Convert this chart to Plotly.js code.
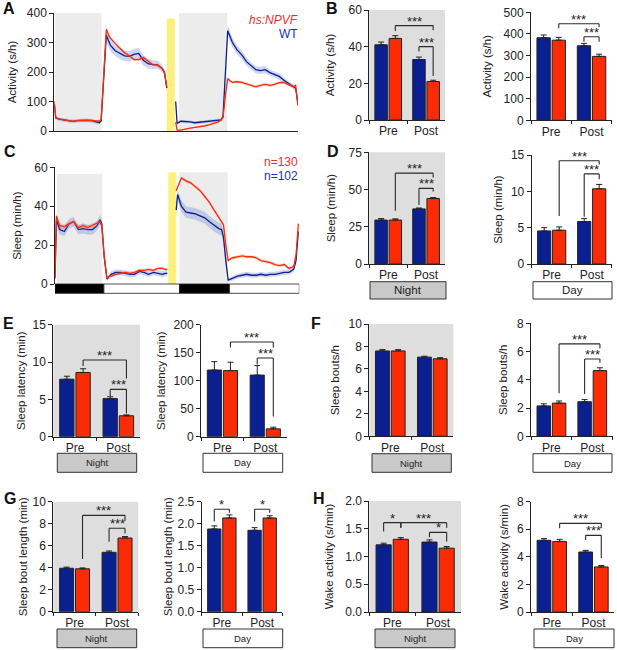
<!DOCTYPE html>
<html><head><meta charset="utf-8">
<script src="https://cdn.plot.ly/plotly-3.0.1.min.js"></script>
<style>html,body{margin:0;padding:0;background:#fff}</style></head>
<body><div id="chart" style="width:617px;height:650px"></div>
<script>
// ---------- time-course data (hours) ----------
const t1 = [0,0.3,1,2,3,4,5,6,7,8,9,9.6,10,10.5,11.1,11.6,12,13,14,15,16,17,18,19,20,21,22,23,23.5,24];
const t2 = [25.9,26.2,27,28,29,30,31,32,33,34,35,35.6,36,36.5,37,37.5,38,39,40,41,42,43,44,45,46,47,48,49,50,51,51.5,52];
const activityHs1 = [100,45,41,38,36,33,36,37,37,36,34,33,40,180,345,325,315,296,280,265,255,242,242,249,237,225,223,212,200,150];
const activityWt1 = [90,45,40,38,35,33,35,36,36,35,30,28,35,170,325,305,290,272,262,255,253,260,263,240,228,225,225,212,198,145];
const activityHs2 = [30,3,3,7,10,12,14,17,21,25,31,37,45,120,178,170,165,167,165,160,155,150,155,158,155,158,164,165,157,150,155,85];
const activityWt2 = [100,26,33,33,31,28,30,31,33,35,38,38,50,200,340,320,300,275,258,235,220,208,205,208,198,192,185,172,160,150,145,90];
const activityErrHs1 = [6,4,3,3,3,3,3,3,3,3,3,3,3,5,6,6,5,5,5,5,5,5,5,5,5,5,5,5,5,5];
const activityErrWt1 = [8,6,6,6,6,6,6,6,6,6,5,5,5,12,25,22,20,18,18,18,18,18,18,18,16,15,14,12,12,10];
const activityErrHs2 = [4,2,2,2,2,2,2,3,3,3,3,3,3,4,5,5,5,5,5,5,5,5,5,5,5,5,5,5,5,5,5,5];
const activityErrWt2 = [8,5,5,5,5,5,5,5,5,5,5,5,5,12,18,18,16,16,14,14,12,12,12,12,10,10,10,10,8,8,8,6];
const sleepHs1 = [3,35,30,29.5,31,32,29,30,29,30,31,32,30,15,3,4,4,5,5.5,6,5.5,6,7,7,7.5,7,8,8,7.5,7.5];
const sleepWt1 = [3,33,28,27,31,32,28,28.5,28,28,30,33,31,14,2.5,4,5,6,6,5.5,5,5,6.5,6,5,6,5.5,5,5.5,5.5];
const sleepHs2 = [48,50,54.5,53,52,50,48,45,42,38,34,31.5,30.5,20,12,13,13.5,14,14.5,14,14,13.5,12,11.5,11,10,9.5,10,8,9,15,31];
const sleepWt2 = [38,46,40,37,36.5,36,35,34,32,30,28.5,28,24,12,2,2.5,3,4,4.5,5,4.5,4.5,5,4.5,5,5,5.5,6,6,7.5,12,27];
const sleepErrHs1 = [1,1.5,1.2,1.2,1.2,1.2,1.2,1.2,1.2,1.2,1.2,1.2,1.2,1,.6,.6,.6,.7,.7,.7,.7,.7,.7,.7,.7,.7,.7,.7,.7,.7];
const sleepErrWt1 = [1,2.5,2.5,2.5,2.5,2.5,2.5,2.5,2.5,2.5,2.5,2.5,2.5,1.5,1,1.5,1.5,1.5,1.5,1.5,1.5,1.5,1.5,1.5,1.5,1.5,1.5,1.5,1.5,1.5];
const sleepErrHs2 = [.8,.8,.8,.8,.8,.8,.8,.8,.8,.8,.8,.8,.8,.8,.8,.8,.8,.8,.8,.8,.8,.8,.8,.8,.8,.8,.8,.8,.8,.8,.8,.8];
const sleepErrWt2 = [2.5,3,3,3,3,3,3,3,3,3,3,3,3,2,1,1,1.2,1.3,1.3,1.3,1.3,1.3,1.3,1.3,1.3,1.3,1.3,1.3,1.3,1.3,1.5,1.5];

// ---------- bar data: [Pre, Post] ----------
const categories = ['Pre','Post'];
const bActNightWt=[41,33], bActNightHs=[44.5,21], bActNightWtE=[1.5,1.3], bActNightHsE=[1.5,0.7];
const bActDayWt=[382,345], bActDayHs=[371,296], bActDayWtE=[13,11], bActDayHsE=[13,10];
const dSlpNightWt=[29.5,37], dSlpNightHs=[29.5,44], dSlpNightWtE=[1,0.6], dSlpNightHsE=[0.8,0.6];
const dSlpDayWt=[4.55,5.85], dSlpDayHs=[4.65,10.35], dSlpDayWtE=[0.45,0.4], dSlpDayHsE=[0.45,0.6];
const eLatNightWt=[7.7,5.1], eLatNightHs=[8.6,2.8], eLatNightWtE=[0.4,0.25], eLatNightHsE=[0.5,0.12];
const eLatDayWt=[119,110], eLatDayHs=[118,14], eLatDayWtE=[15,17], eLatDayHsE=[15,3];
const fBoutNightWt=[7.6,7.05], fBoutNightHs=[7.6,6.9], fBoutNightWtE=[0.12,0.08], fBoutNightHsE=[0.12,0.1];
const fBoutDayWt=[2.15,2.45], fBoutDayHs=[2.35,4.65], fBoutDayWtE=[0.15,0.15], fBoutDayHsE=[0.15,0.2];
const gLenNightWt=[3.95,5.4], gLenNightHs=[3.9,6.7], gLenNightWtE=[0.1,0.12], gLenNightHsE=[0.08,0.13];
const gLenDayWt=[1.88,1.85], gLenDayHs=[2.13,2.13], gLenDayWtE=[0.07,0.06], gLenDayHsE=[0.07,0.05];
const hWakeNightWt=[1.21,1.26], hWakeNightHs=[1.31,1.15], hWakeNightWtE=[0.03,0.04], hWakeNightHsE=[0.03,0.03];
const hWakeDayWt=[5.2,4.35], hWakeDayHs=[5.12,3.27], hWakeDayWtE=[0.12,0.12], hWakeDayHsE=[0.15,0.1];

// ---------- layout ----------
const W=617,H=650, WT='#0b2090', HS='#fb2c05', TXT='#222', FONT='Liberation Sans, Arial, sans-serif';
const fx=p=>p/W, fy=p=>1-p/H;
const NIGHT='#c9c9c9', BG='#dedede', TB='#ececec', YEL='#fdf07c';
let traces=[], shapes=[], annos=[], layout={};
let axN=0;
function addAxes(x0,x1,yT,yB,yMax,dtick,title,tsize,standoff,extraX,fmt){
  axN++; const s=axN===1?'':axN;
  layout['xaxis'+s]=Object.assign({domain:[fx(x0),fx(x1)],anchor:'y'+s,showgrid:false,zeroline:false,showline:true,linecolor:TXT,linewidth:1,
    tickfont:{family:FONT,size:12,color:TXT},ticks:'outside',ticklen:3,tickcolor:TXT,tickwidth:1,fixedrange:true},extraX);
  layout['yaxis'+s]={domain:[fy(yB),fy(yT)],anchor:'x'+s,range:[0,yMax],dtick:dtick,tick0:0,showgrid:false,zeroline:false,showline:true,linecolor:TXT,linewidth:1,
    tickfont:{family:FONT,size:12,color:TXT},ticks:'outside',ticklen:4,tickcolor:TXT,tickwidth:1,fixedrange:true,tickformat:fmt||'',
    title:{text:title,font:{family:FONT,size:tsize,color:TXT},standoff:standoff}};
  return s;
}
function rect(s,x0,x1,y0,y1,color){ shapes.push({type:'rect',layer:'below',xref:'x'+s,yref:'y'+s,x0,x1,y0,y1,fillcolor:color,line:{width:0}}); }
function timeSeries(s,t,v,e,color,band){
  const up=v.map((a,i)=>a+e[i]), lo=v.map((a,i)=>Math.max(a-e[i],0));
  traces.push({type:'scatter',mode:'lines',x:t.concat(t.slice().reverse()),y:up.concat(lo.slice().reverse()),xaxis:'x'+s,yaxis:'y'+s,fill:'toself',fillcolor:band,line:{width:0},hoverinfo:'skip',showlegend:false});
  traces.push({type:'scatter',mode:'lines',x:t,y:v,xaxis:'x'+s,yaxis:'y'+s,line:{color:color,width:1.3},showlegend:false});
}
const WB='rgba(90,115,205,0.3)', HB='rgba(245,110,90,0.3)';
// Panel A
let sA=addAxes(54.3,298,13,131,400,100,'Activity (s/h)',11.5,7,{range:[0,52],showticklabels:false,ticks:''});
rect(sA,0.14,10.1,0,400,TB); rect(sA,26.6,36.9,0,400,TB); rect(sA,24,25.7,0,381,YEL);
[[t1,activityWt1,activityErrWt1,WT,WB],[t2,activityWt2,activityErrWt2,WT,WB],[t1,activityHs1,activityErrHs1,HS,HB],[t2,activityHs2,activityErrHs2,HS,HB]].forEach(a=>timeSeries(sA,...a));
// Panel C
let sC=addAxes(55,299.3,167.3,284,60,20,'Sleep (min/h)',11.5,10,{range:[0,52.2],showticklabels:false,ticks:'',showline:false});
rect(sC,0.4,10.1,0,56.6,TB); rect(sC,26.6,36.9,0,57.5,TB); rect(sC,24.2,25.9,0,57.5,YEL);
[[0,10.45,'#000'],[10.45,26.6,'#fff'],[26.6,37.3,'#000'],[37.3,52.2,'#fff']].forEach(b=>shapes.push({type:'rect',xref:'x'+sC,yref:'y'+sC+' domain',x0:b[0],x1:b[1],y0:-0.08,y1:0,fillcolor:b[2],line:{color:'#222',width:0.8}}));
[[t1,sleepWt1,sleepErrWt1,WT,WB],[t2,sleepWt2,sleepErrWt2,WT,WB],[t1,sleepHs1,sleepErrHs1,HS,HB],[t2,sleepHs2,sleepErrHs2,HS,HB]].forEach(a=>timeSeries(sC,...a));

function barPanel(o){
  const s=addAxes(o.x0,o.x1,o.yT,o.yB,o.max,o.dtick,o.title,o.tsize,o.standoff,{type:'category',categoryorder:'array',categoryarray:categories,tickson:'boundaries',range:[-0.5,1.5]},o.fmt);
  if(o.night) shapes.push({type:'rect',layer:'below',xref:'x'+s+' domain',yref:'y'+s+' domain',x0:0,x1:1,y0:0,y1:1,fillcolor:BG,line:{width:0}});
  [[o.wt,o.wtE,WT,'WT'],[o.hs,o.hsE,HS,'hs:NPVF']].forEach(d=>traces.push({type:'bar',name:d[3],x:categories,y:d[0],xaxis:'x'+s,yaxis:'y'+s,showlegend:false,
    marker:{color:d[2],line:{color:'#222',width:1}},
    error_y:{type:'data',symmetric:false,array:d[1],arrayminus:[0,0],color:'#222',thickness:1,width:3}}));
  const bx=i=>(i>>1)+(i%2?0.1875:-0.1875);
  (o.br||[]).forEach(b=>{
    const [a,c,top,l,r,txt]=b;
    [[bx(a),l,bx(a),top],[bx(a),top,bx(c),top],[bx(c),top,bx(c),r]].forEach(q=>shapes.push({type:'line',xref:'x'+s,yref:'y'+s,x0:q[0],y0:q[1],x1:q[2],y1:q[3],line:{color:'#2a2a2a',width:1.1}}));
    annos.push({xref:'x'+s,yref:'y'+s,x:(bx(a)+bx(c))/2,y:top,text:txt||'***',showarrow:false,yanchor:'bottom',yshift:-5,font:{family:FONT,size:13,color:TXT}});
  });
  if(o.box) {
    const night=o.box[0]==='Night';
    shapes.push({type:'rect',xref:'paper',yref:'paper',x0:fx(o.box[1]),x1:fx(o.box[2]),y0:fy(o.box[4]),y1:fy(o.box[3]),fillcolor:night?NIGHT:'#fff',line:{color:'#333',width:1}});
    annos.push({xref:'paper',yref:'paper',x:fx((o.box[1]+o.box[2])/2),y:fy((o.box[3]+o.box[4])/2),text:o.box[0],showarrow:false,xanchor:'center',yanchor:'middle',font:{family:FONT,size:o.box[5],color:TXT}});
  }
}
barPanel({x0:369.3,x1:445,yT:10,yB:120,max:60,dtick:20,title:'Activity (s/h)',tsize:11.5,standoff:11,night:1,wt:bActNightWt,hs:bActNightHs,wtE:bActNightWtE,hsE:bActNightHsE,br:[[1,3,51.5,48.5,49],[2,3,40,37.3,24]]});
barPanel({x0:531,x1:611.7,yT:12.3,yB:120.3,max:500,dtick:100,title:'Activity (s/h)',tsize:11.5,standoff:9,wt:bActDayWt,hs:bActDayHs,wtE:bActDayWtE,hsE:bActDayHsE,br:[[1,3,447,426,431],[2,3,387,364,364]]});
barPanel({x0:369.3,x1:445,yT:152.3,yB:264,max:75,dtick:25,title:'Sleep (min/h)',tsize:11.5,standoff:10,night:1,wt:dSlpNightWt,hs:dSlpNightHs,wtE:dSlpNightWtE,hsE:dSlpNightHsE,br:[[1,3,61,35.8,58],[2,3,50.8,39.6,48.6]],box:['Night',370,446,281.7,299,11.5]});
barPanel({x0:531.7,x1:611.7,yT:155,yB:264,max:15,dtick:5,title:'Sleep (min/h)',tsize:11.5,standoff:5,wt:dSlpDayWt,hs:dSlpDayHs,wtE:dSlpDayWtE,hsE:dSlpDayHsE,br:[[1,3,14.2,6.6,13.7],[2,3,12.4,6.5,11.65]],box:['Day',533,612,281.7,299,11.5]});
barPanel({x0:53.3,x1:140,yT:324.7,yB:436.7,max:15,dtick:5,title:'Sleep latency (min)',tsize:11.5,standoff:4,night:1,wt:eLatNightWt,hs:eLatNightHs,wtE:eLatNightWtE,hsE:eLatNightHsE,br:[[1,3,10.27,9.46,7.8],[2,3,6.34,5.45,3.1]],box:['Night',57.3,136.7,453.3,472.3,9.5]});
barPanel({x0:201,x1:286.7,yT:324.7,yB:436.7,max:200,dtick:50,title:'Sleep latency (min)',tsize:11.5,standoff:5,wt:eLatDayWt,hs:eLatDayHs,wtE:eLatDayWtE,hsE:eLatDayHsE,br:[[1,3,169,159.5,159.5],[2,3,140.5,129,36]],box:['Day',203,282.7,453.3,472.3,9.5]});
barPanel({x0:369.3,x1:453.3,yT:324,yB:436.3,max:10,dtick:2,title:'Sleep bouts/h',tsize:11.5,standoff:6,night:1,wt:fBoutNightWt,hs:fBoutNightHs,wtE:fBoutNightWtE,hsE:fBoutNightHsE,box:['Night',372,451.3,453.7,472.3,9.5]});
barPanel({x0:531,x1:612.7,yT:323.3,yB:436.3,max:8,dtick:2,title:'Sleep bouts/h',tsize:11.5,standoff:6,wt:fBoutDayWt,hs:fBoutDayHs,wtE:fBoutDayWtE,hsE:fBoutDayHsE,br:[[1,3,6.54,3.04,6.23],[2,3,5.47,3,5.2]],box:['Day',533,612,453.7,472.3,9.5]});
barPanel({x0:53.3,x1:138.3,yT:501.7,yB:611.7,max:10,dtick:2,title:'Sleep bout length (min)',tsize:11.5,standoff:2,night:1,wt:gLenNightWt,hs:gLenNightHs,wtE:gLenNightWtE,hsE:gLenNightHsE,br:[[1,3,8.76,4.8,8.27],[2,3,7.58,6.36,7.1]],box:['Night',57,136.7,629,647.7,9.5]});
barPanel({x0:201.7,x1:282.3,yT:501.7,yB:611.7,max:2.5,dtick:0.5,fmt:'.1f',title:'Sleep bout length (min)',tsize:11.5,standoff:2,wt:gLenDayWt,hs:gLenDayHs,wtE:gLenDayWtE,hsE:gLenDayHsE,br:[[0,1,2.33,2.05,2.25,'*'],[2,3,2.33,2.05,2.25,'*']],box:['Day',203,282.7,629,647.7,9.5]});
barPanel({x0:369.3,x1:461,yT:501,yB:612,max:2,dtick:0.5,fmt:'.1f',title:'Wake activity (s/min)',tsize:11.5,standoff:9,night:1,wt:hWakeNightWt,hs:hWakeNightHs,wtE:hWakeNightWtE,hsE:hWakeNightHsE,br:[[0,1,1.61,1.45,1.52,'*'],[1,3,1.61,1.52,1.52],[2,3,1.435,1.345,1.27,'*']],box:['Night',375,455,629,647.7,9.5]});
barPanel({x0:531,x1:614.3,yT:501.7,yB:612,max:8,dtick:2,title:'Wake activity (s/min)',tsize:11.5,standoff:5,wt:hWakeDayWt,hs:hWakeDayHs,wtE:hWakeDayWtE,hsE:hWakeDayHsE,br:[[1,3,6.43,6.07,6.07],[2,3,5.56,5.22,3.89]],box:['Day',534,614,629,647.7,9.5]});

// letters and legends
const WTTXT='#1c30c0', HSTXT='#e8302a';
[['A',2,8],['C',3,152],['B',325,8],['D',326,151],['E',2,323],['F',310,323],['G',3,498],['H',312,498]].forEach(a=>annos.push({xref:'paper',yref:'paper',x:fx(a[1]),y:fy(a[2]),text:'<b>'+a[0]+'</b>',showarrow:false,xanchor:'left',yanchor:'middle',xshift:-1,font:{family:FONT,size:16,color:'#111'}}));
[['<i>hs:NPVF</i>',HSTXT,20],['WT',WTTXT,34],['n=130',HSTXT,162],['n=102',WTTXT,176]].forEach(a=>annos.push({xref:'paper',yref:'paper',x:fx(300),y:fy(a[2]),text:a[0],showarrow:false,xanchor:'right',yanchor:'middle',font:{family:FONT,size:12,color:a[1]}}));

Object.assign(layout,{width:W,height:H,margin:{l:0,r:0,t:0,b:0,pad:0},paper_bgcolor:'#fff',plot_bgcolor:'rgba(0,0,0,0)',showlegend:false,barmode:'group',bargap:0.25,bargroupgap:0.12,shapes:shapes,annotations:annos,font:{family:FONT}});
Plotly.newPlot('chart',traces,layout,{displayModeBar:false,staticPlot:true});
</script></body></html>
